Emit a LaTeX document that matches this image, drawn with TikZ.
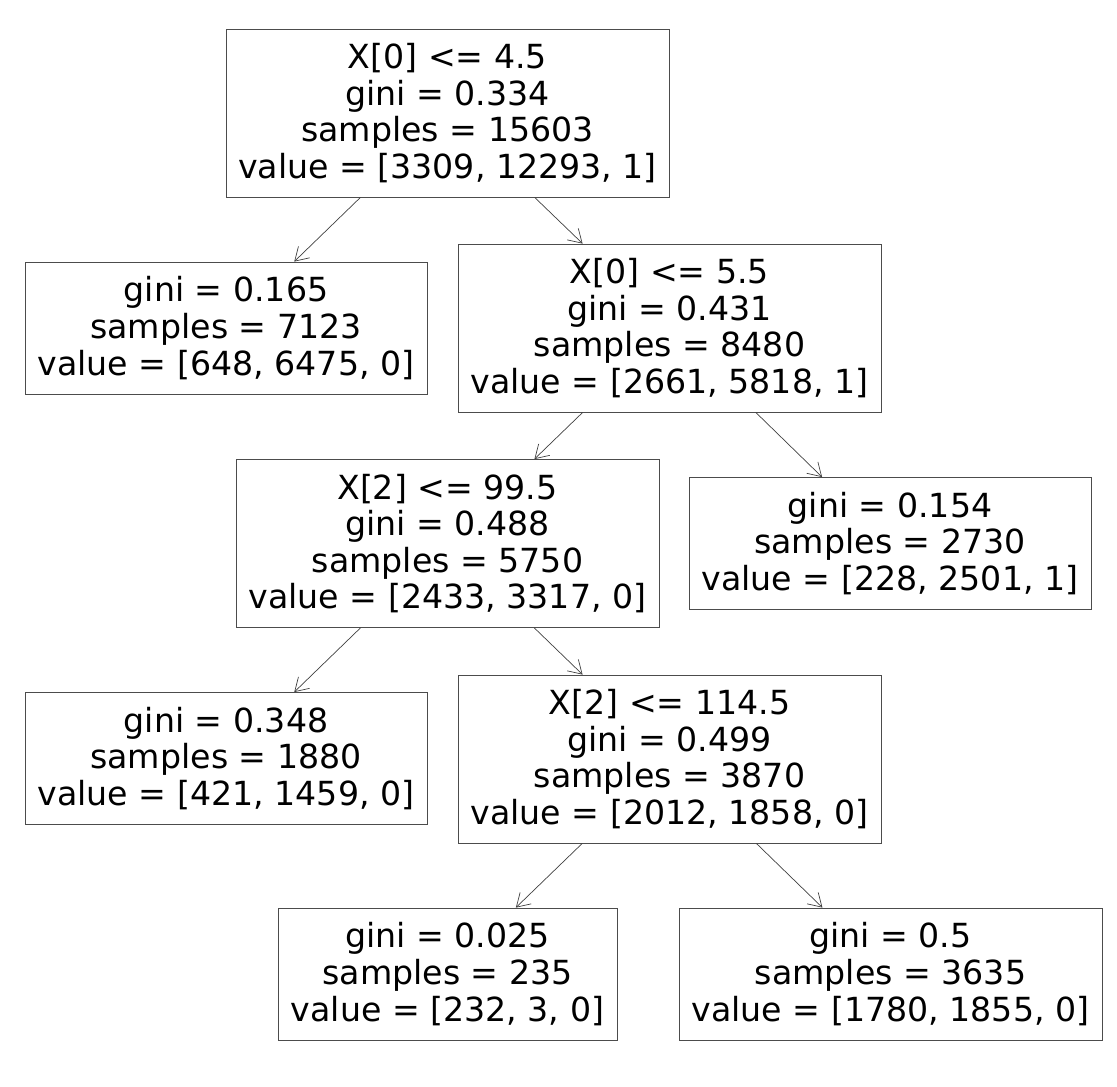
\documentclass[tikz,border=0pt]{standalone}
\usepackage{fontspec}
\setmainfont{DejaVu Sans}
\usepackage{tikz}
\usetikzlibrary{arrows.meta}
\usetikzlibrary{positioning}

\begin{document}
\begin{tikzpicture}[x=1pt,y=-1pt,
	box/.style={draw=black!70,line width=0.8pt,align=center,inner sep=0pt,
		font=\fontsize{33.2}{36.6}\selectfont},
	split/.style={box,minimum height=168pt},
	leaf/.style={box,minimum height=132pt},
	edge/.style={draw=black!75,line width=0.7pt,-{Straight Barb[length=13pt,width=16pt]}}]
	\useasboundingbox (0,0) rectangle (1117,1087);
	% nodes of the tree
	\node[split,minimum width=443pt] (root) at (447.5,113) {X[0] <= 4.5\\gini = 0.334\\samples = 15603\\value = [3309, 12293, 1]};
	\node[leaf,minimum width=402pt] (l1) at (226,328) {gini = 0.165\\samples = 7123\\value = [648, 6475, 0]};
	\node[split,minimum width=423pt] (r1) at (669.5,328) {X[0] <= 5.5\\gini = 0.431\\samples = 8480\\value = [2661, 5818, 1]};
	\node[split,minimum width=423pt] (l2) at (447.5,543.5) {X[2] <= 99.5\\gini = 0.488\\samples = 5750\\value = [2433, 3317, 0]};
	\node[leaf,minimum width=402pt] (r2) at (890,543.5) {gini = 0.154\\samples = 2730\\value = [228, 2501, 1]};
	\node[leaf,minimum width=402pt] (l3) at (226,758.5) {gini = 0.348\\samples = 1880\\value = [421, 1459, 0]};
	\node[split,minimum width=423pt] (r3) at (669.5,759) {X[2] <= 114.5\\gini = 0.499\\samples = 3870\\value = [2012, 1858, 0]};
	\node[leaf,minimum width=339pt] (l4) at (447.5,974) {gini = 0.025\\samples = 235\\value = [232, 3, 0]};
	\node[leaf,minimum width=423pt] (r4) at (890.5,974) {gini = 0.5\\samples = 3635\\value = [1780, 1855, 0]};
	% edges
	\draw[edge] (root) -- (l1);
	\draw[edge] (root) -- (r1);
	\draw[edge] (r1) -- (l2);
	\draw[edge] (r1) -- (r2);
	\draw[edge] (l2) -- (l3);
	\draw[edge] (l2) -- (r3);
	\draw[edge] (r3) -- (l4);
	\draw[edge] (r3) -- (r4);
\end{tikzpicture}
\end{document}
